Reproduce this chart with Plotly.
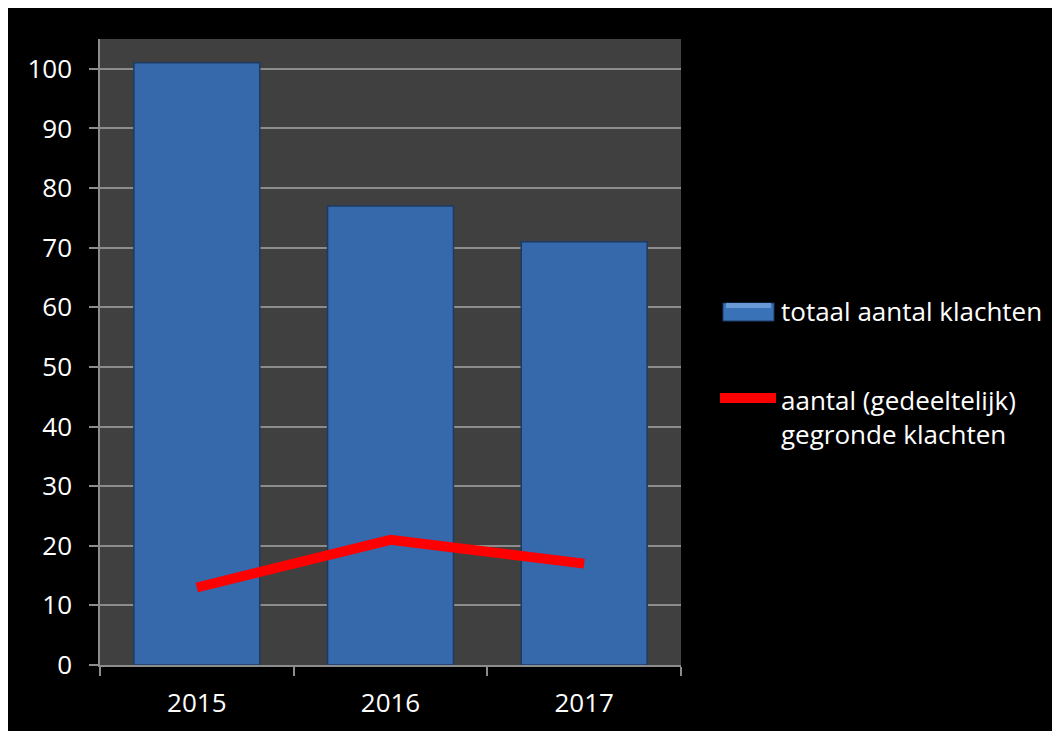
import plotly.graph_objects as go

years = ["2015", "2016", "2017"]
totaal = [101, 77, 71]
gegrond = [13, 21, 17]
y_ticks = [0, 10, 20, 30, 40, 50, 60, 70, 80, 90, 100]
name_bar = "totaal aantal klachten"
name_line = "aantal (gedeeltelijk)<br>gegronde klachten"

# plot area in figure pixels
L, T, R, B = 92, 31, 673, 657
W, H = 1052, 731


def px(x):
    return (x - L) / (R - L)


def py(y):
    return (B - y) / (B - T)


fig = go.Figure()
fig.add_trace(go.Bar(
    x=years, y=totaal, name=name_bar, showlegend=False,
    marker=dict(color="#3569ab", line=dict(color="#1c3a63", width=1.5)),
    width=0.65,
))
fig.add_trace(go.Scatter(
    x=years, y=gegrond, name=name_line, showlegend=False,
    mode="lines", line=dict(color="#ff0000", width=10),
))

shapes = [
    dict(type="rect", xref="paper", yref="paper",
         x0=px(715), x1=px(766), y0=py(313), y1=py(295),
         fillcolor="#3a72b8", line=dict(color="#1c3a63", width=1)),
    dict(type="rect", xref="paper", yref="paper",
         x0=px(718), x1=px(763), y0=py(300), y1=py(295),
         fillcolor="#6a9ad6", line=dict(width=0)),
    dict(type="line", xref="paper", yref="paper",
         x0=px(712), x1=px(768), y0=py(390), y1=py(390),
         line=dict(color="#ff0000", width=10)),
]
annotations = [
    dict(text=name_bar, xref="paper", yref="paper", x=px(771), y=py(303),
         xanchor="left", yanchor="middle", showarrow=False,
         font=dict(size=26, color="white"), align="left"),
    dict(text=name_line, xref="paper", yref="paper", x=px(771), y=py(409),
         xanchor="left", yanchor="middle", showarrow=False,
         font=dict(size=26, color="white"), align="left"),
]

fig.update_layout(
    width=W, height=H,
    paper_bgcolor="black", plot_bgcolor="#404040",
    margin=dict(l=L, r=W - R, t=T, b=H - B, autoexpand=False),
    font=dict(family="Open Sans", size=26, color="white"),
    showlegend=False,
    shapes=shapes, annotations=annotations,
    xaxis=dict(showline=True, linecolor="#8c8c8c", linewidth=1.5,
               ticks="outside", tickson="boundaries", ticklen=9,
               tickcolor="#8c8c8c", tickwidth=1.5, showgrid=False,
               ticklabelstandoff=14,
               tickfont=dict(size=26, color="white")),
    yaxis=dict(range=[0, 105], tickvals=y_ticks, showline=True,
               linecolor="#8c8c8c", linewidth=1.5, ticks="outside",
               ticklen=9, tickcolor="#8c8c8c", tickwidth=1.5,
               gridcolor="#8c8c8c", gridwidth=1.5, zeroline=False,
               ticklabelstandoff=12,
               tickfont=dict(size=26, color="white")),
)

fig.write_html("out.html")
